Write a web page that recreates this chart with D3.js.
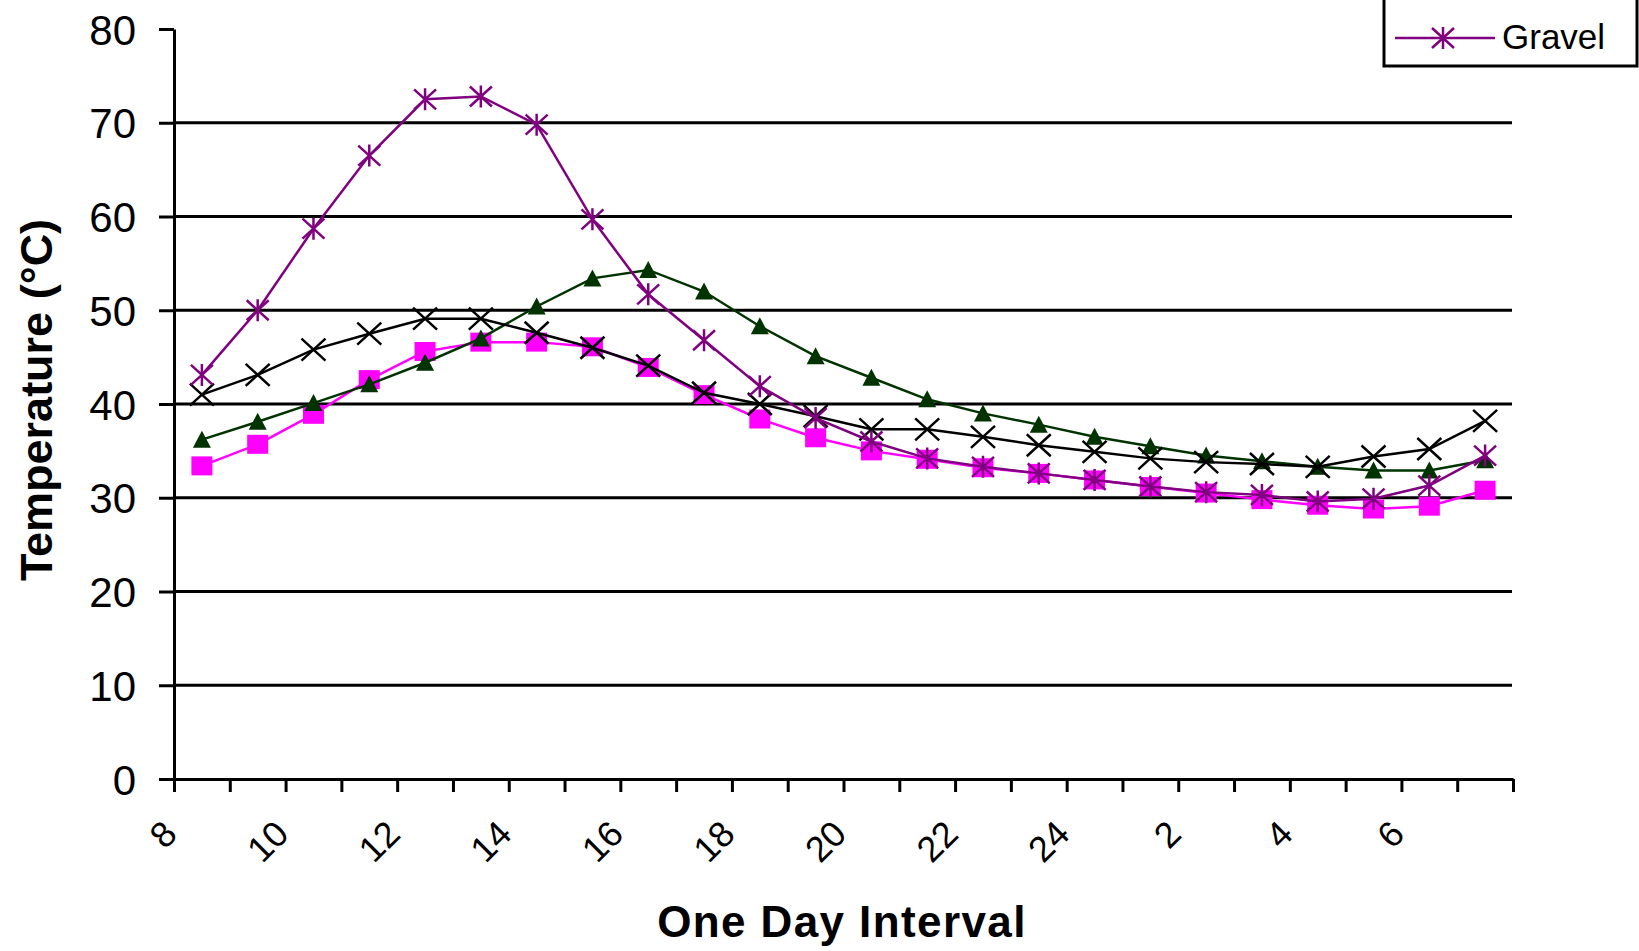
<!DOCTYPE html>
<html>
<head>
<meta charset="utf-8">
<script src="https://cdn.jsdelivr.net/npm/d3@7"></script>
<style>
  body { margin: 0; background: #fff; }
  svg { display: block; font-family: "Liberation Sans", Arial, sans-serif; }
</style>
</head>
<body>
<svg id="chart" width="1639" height="951"></svg>
<script>
// categories - one day, hourly
var hours = ["8","9","10","11","12","13","14","15","16","17","18","19","20","21","22","23","24","1","2","3","4","5","6","7"];
var yTicks = [0, 10, 20, 30, 40, 50, 60, 70, 80];

// series values (deg C)
var pinkSquares = [33.4, 35.7, 38.9, 42.6, 45.6, 46.6, 46.6, 46.1, 43.9, 41.0, 38.4, 36.4, 35.0, 34.1, 33.2, 32.6, 31.9, 31.2, 30.5, 29.8, 29.2, 28.8, 29.1, 30.8];
var greenTriangles = [36.2, 38.1, 40.1, 42.1, 44.4, 47.0, 50.4, 53.4, 54.3, 52.0, 48.3, 45.1, 42.8, 40.5, 39.0, 37.8, 36.5, 35.5, 34.5, 33.9, 33.3, 32.9, 32.9, 34.0];
var blackCross = [41.0, 43.1, 45.8, 47.5, 49.1, 49.1, 47.6, 46.0, 44.1, 41.2, 40.0, 38.7, 37.3, 37.3, 36.5, 35.6, 34.9, 34.2, 33.8, 33.6, 33.3, 34.4, 35.2, 38.2];
var gravel = [43.1, 50.0, 58.7, 66.5, 72.5, 72.8, 69.8, 59.7, 51.7, 46.8, 41.9, 38.5, 36.0, 34.2, 33.3, 32.6, 31.9, 31.2, 30.6, 30.3, 29.6, 29.9, 31.3, 34.5];

var svg = d3.select("#chart");
var plotL = 174, plotR = 1513, plotT = 29, plotB = 779;

var x = d3.scaleBand().domain(hours).range([plotL, plotR]).padding(0);
var xi = d3.scaleLinear().domain([0, hours.length]).range([plotL, plotR]);   // tick boundaries
var y = d3.scaleLinear().domain([0, 80]).range([plotB, plotT]);

// grid
svg.append("g").selectAll("line")
  .data(yTicks.filter(function(d) { return d > 0 && d < 80; }))
  .enter().append("line")
    .attr("x1", plotL).attr("x2", plotR - 1)
    .attr("y1", function(d) { return y(d); })
    .attr("y2", function(d) { return y(d); })
    .attr("stroke", "#000").attr("stroke-width", 3);

// y axis
var yAxis = svg.append("g")
  .attr("transform", "translate(" + plotL + ",0)")
  .call(d3.axisLeft(y).tickValues(yTicks).tickSize(15).tickSizeOuter(0).tickPadding(23));
yAxis.select(".domain").attr("stroke-width", 3);
yAxis.selectAll(".tick line").attr("stroke-width", 3);
yAxis.selectAll(".tick text")
  .attr("font-size", 42).attr("font-family", "Liberation Sans, Arial, sans-serif")
  .attr("dy", "0.36em").attr("fill", "#000");

// x axis - ticks between categories
var xAxis = svg.append("g")
  .attr("transform", "translate(0," + plotB + ")")
  .call(d3.axisBottom(xi).tickValues(d3.range(hours.length + 1)).tickSize(13).tickSizeOuter(0).tickFormat(""));
xAxis.select(".domain").attr("stroke-width", 3);
xAxis.selectAll(".tick line").attr("stroke-width", 3);

// category labels, every 2nd, rotated
svg.append("g").selectAll("text")
  .data(hours.filter(function(d, i) { return i % 2 == 0; }))
  .enter().append("text")
    .attr("transform", function(d) { return "translate(" + (x(d) + 5) + ",836) rotate(-45)"; })
    .attr("text-anchor", "end")
    .attr("font-size", 36)
    .text(function(d) { return d; });

// axis titles
svg.append("text")
  .attr("transform", "translate(52,400) rotate(-90)")
  .attr("text-anchor", "middle")
  .attr("font-size", 45).attr("font-weight", "bold")
  .text("Temperature (°C)");

svg.append("text")
  .attr("x", 842).attr("y", 937)
  .attr("text-anchor", "middle")
  .attr("font-size", 44).attr("font-weight", "bold")
  .attr("letter-spacing", 1.4)
  .text("One Day Interval");

// markers
function markerPath(type) {
  if (type == "star") return "M-11,-10L11,10M11,-10L-11,10M0,-11L0,11";
  if (type == "cross") return "M-12,-11L12,11M12,-11L-12,11";
  if (type == "square") return "M-10.5,-9.5H10.5V9.5H-10.5Z";
  return "M0,-9L9,8H-9Z";
}

var series = [
  {name: "pink", values: pinkSquares, color: "#ff00ff", marker: "square"},
  {name: "green", values: greenTriangles, color: "#003300", marker: "triangle"},
  {name: "black", values: blackCross, color: "#000000", marker: "cross"},
  {name: "Gravel", values: gravel, color: "#800080", marker: "star"}
];

var line = d3.line()
  .x(function(d, i) { return x(hours[i]) + x.bandwidth() / 2; })
  .y(function(d) { return y(d); });

series.forEach(function(s) {
  var g = svg.append("g");
  g.append("path")
    .attr("d", line(s.values))
    .attr("fill", "none").attr("stroke", s.color).attr("stroke-width", 2.5);
  var filled = s.marker == "square" || s.marker == "triangle";
  g.selectAll("path.m")
    .data(s.values)
    .enter().append("path")
      .attr("class", "m")
      .attr("transform", function(d, i) { return "translate(" + (x(hours[i]) + x.bandwidth() / 2) + "," + y(d) + ")"; })
      .attr("d", markerPath(s.marker))
      .attr("fill", filled ? s.color : "none")
      .attr("stroke", s.color)
      .attr("stroke-width", filled ? 0 : 2.5);
});

// legend (cut at the top of the picture, only Gravel shows)
var leg = svg.append("g");
leg.append("rect")
  .attr("x", 1384).attr("y", -20).attr("width", 253).attr("height", 86)
  .attr("fill", "#fff").attr("stroke", "#000").attr("stroke-width", 3);
leg.append("line")
  .attr("x1", 1395).attr("x2", 1495).attr("y1", 38).attr("y2", 38)
  .attr("stroke", "#800080").attr("stroke-width", 2.5);
leg.append("path")
  .attr("transform", "translate(1443,38)")
  .attr("d", markerPath("star"))
  .attr("fill", "none").attr("stroke", "#800080").attr("stroke-width", 2.5);
leg.append("text")
  .attr("x", 1502).attr("y", 49)
  .attr("font-size", 35)
  .text("Gravel");
</script>
</body>
</html>
